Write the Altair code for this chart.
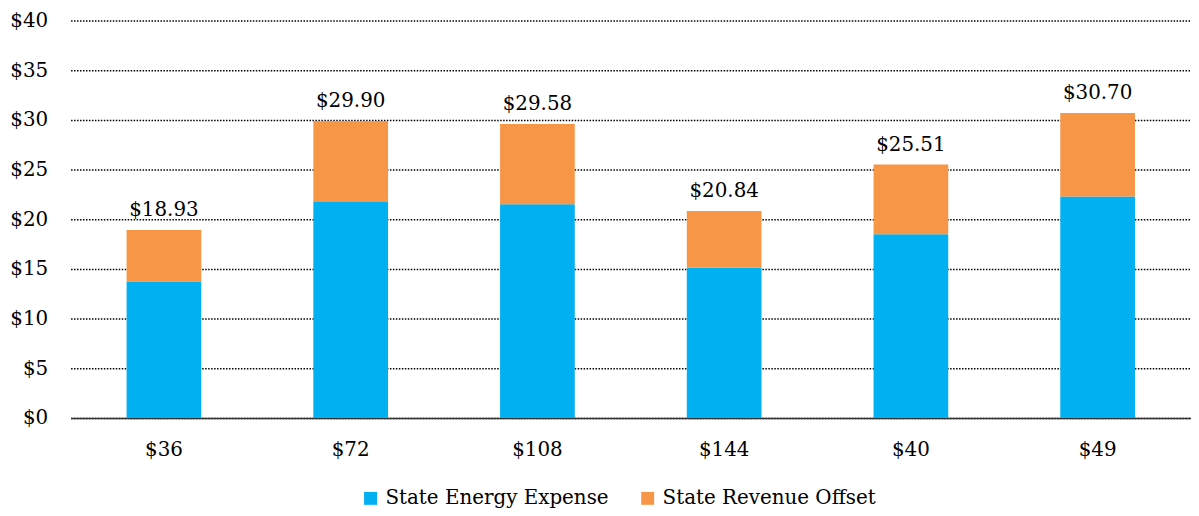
import altair as alt
import pandas as pd

categories = ["$36", "$72", "$108", "$144", "$40", "$49"]
energy = [13.73, 21.73, 21.50, 15.13, 18.50, 22.30]
offset = [5.20, 8.17, 8.08, 5.71, 7.01, 8.40]
totals = [18.93, 29.90, 29.58, 20.84, 25.51, 30.70]
series = ["State Energy Expense", "State Revenue Offset"]
colors = ["#00B0F0", "#F79646"]

rows = []
for i, c in enumerate(categories):
    rows.append({"cat": c, "series": series[0], "value": energy[i], "ord": 0})
    rows.append({"cat": c, "series": series[1], "value": offset[i], "ord": 1})
df = pd.DataFrame(rows)
tot = pd.DataFrame({"cat": categories, "total": totals,
                    "label": ["$" + f"{t:.2f}" for t in totals]})

FONT = "DejaVu Serif"
FS = 20
xenc = alt.X("cat:N", sort=categories,
             scale=alt.Scale(paddingInner=0.6, paddingOuter=0.3),
             axis=alt.Axis(title=None, labelAngle=0, labelFontSize=FS, labelFont=FONT,
                           labelColor="#000", labelPadding=22, ticks=False,
                           domainColor="#333", domainWidth=1.5, grid=False))

bars = alt.Chart(df).mark_bar().encode(
    x=xenc,
    y=alt.Y("sum(value):Q", stack="zero",
            scale=alt.Scale(domain=[0, 40]),
            axis=alt.Axis(title=None, values=[0, 5, 10, 15, 20, 25, 30, 35, 40],
                          labelExpr="'$' + datum.value", labelFontSize=FS, labelFont=FONT,
                          labelColor="#000", labelPadding=23, ticks=False, domain=False,
                          grid=True, gridColor="#000", gridDash=[1.5, 1.5], gridWidth=1.5)),
    color=alt.Color("series:N", sort=series,
                    scale=alt.Scale(domain=series, range=colors),
                    legend=alt.Legend(title=None, orient="none", legendX=292, legendY=471,
                                      direction="horizontal", symbolType="square",
                                      symbolSize=169, symbolStrokeWidth=0, labelLimit=0,
                                      labelFontSize=FS, labelFont=FONT, labelColor="#000",
                                      columnPadding=29, labelOffset=5)),
    order=alt.Order("ord:Q"),
)

text = alt.Chart(tot).mark_text(dy=-14, baseline="alphabetic", fontSize=FS, font=FONT,
                                color="#000").encode(
    x=alt.X("cat:N", sort=categories),
    y=alt.Y("total:Q"),
    text="label:N",
)

chart = alt.layer(bars, text).properties(
    width=1128, height=400,
    autosize=alt.AutoSizeParams(type="none"),
    padding={"left": 63, "top": 11, "right": 0, "bottom": 89},
).configure(background="white").configure_view(stroke=None)

chart.save("out.html", embed_options={"renderer": "svg", "actions": False})
